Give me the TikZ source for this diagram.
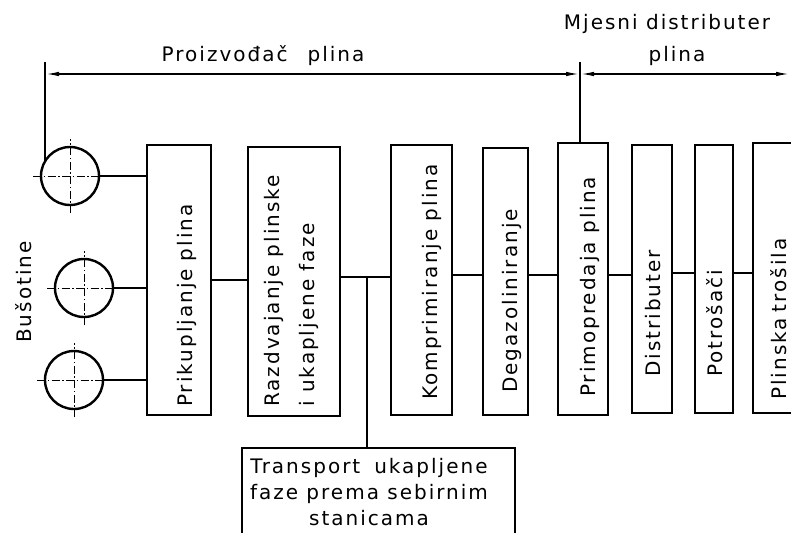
\documentclass[tikz,border=0pt]{standalone}
\usepackage{fontspec}
\setmainfont{DejaVu Sans}[LetterSpace=10]
\usetikzlibrary{arrows.meta,calc}
\begin{document}
\begin{tikzpicture}[x=1pt,y=-1pt,
  box/.style={draw,line width=2.2pt,inner sep=0pt,rectangle},
  lbl/.style={font=\fontsize{20}{24}\selectfont,inner sep=0pt},
  vlbl/.style={lbl,rotate=90,anchor=base west},
  wire/.style={line width=2.2pt},
  well/.style={draw,circle,line width=2.4pt,minimum size=58pt,inner sep=0pt},
  axisline/.style={line width=1pt,dash pattern=on 8pt off 2.5pt on 1.5pt off 2.5pt},
  dimline/.style={line width=1.6pt,{Latex[length=14pt,width=4.5pt]}-{Latex[length=14pt,width=4.5pt]}},
  refline/.style={line width=1.6pt}]
\useasboundingbox (0,0) rectangle (791,532);
\clip (0,0) rectangle (791,532);

% wells
\node[well] (c1) at (70,176) {};
\node[well] (c2) at (84,288) {};
\node[well] (c3) at (74,380) {};
\foreach \c in {c1,c2,c3}{
  \draw[axisline] ([xshift=-37pt]\c.center) -- ([xshift=37pt]\c.center);
  \draw[axisline] ([yshift=-37pt]\c.center) -- ([yshift=37pt]\c.center);
}
\node[lbl,rotate=90,anchor=base west] (bus) at (31,343) {Bušotine};

% boxes
\node[box,minimum width=64pt,minimum height=270pt] (b1) at (179,280) {};
\node[box,minimum width=92pt,minimum height=269pt] (b2) at (294,281.5) {};
\node[box,minimum width=61pt,minimum height=270pt] (b3) at (421.5,280) {};
\node[box,minimum width=45pt,minimum height=267pt] (b4) at (505.5,281.5) {};
\node[box,minimum width=50pt,minimum height=272pt] (b5) at (583,279) {};
\node[box,minimum width=40pt,minimum height=268pt] (b6) at (652,279) {};
\node[box,minimum width=38pt,minimum height=268pt] (b7) at (714,279) {};
\node[box,minimum width=67pt,minimum height=270pt] (b8) at (786.5,278) {};
\node[box,minimum width=273pt,minimum height=97pt] (tr) at (378.5,496.5) {};

% box texts
\node[vlbl] (t1) at (192,407) {Prikupljanje\hspace{8pt}plina};
\node[lbl,rotate=90,anchor=north west,align=left,font=\fontsize{20}{35}\selectfont] (t2) at (264.5,407) {Razdvajanje plinske\\i ukapljene faze};
\node[vlbl] (t3) at (437,400) {Komprimiranje plina};
\node[vlbl] (t4) at (517,393) {Degazoliniranje};
\node[vlbl] (t5) at (595,397) {Primopredaja plina};
\node[vlbl] (t6) at (660,377) {Distributer};
\node[vlbl] (t7) at (722,377) {Potrošači};
\node[vlbl] (t8) at (786,400) {Plinska\hspace{6pt}trošila};
\node[lbl,align=center,anchor=north,font=\fontsize{20}{26}\selectfont] (t9) at (369,458) {Transport\hspace{14pt}ukapljene\\faze prema sebirnim\\stanicama};

% connectors
\draw[wire] (c1.east) -- (c1.east -| b1.west);
\draw[wire] (c2.east) -- (c2.east -| b1.west);
\draw[wire] (c3.east) -- (c3.east -| b1.west);
\draw[wire] (b1.east) -- (b1.east -| b2.west);
\draw[wire] ([yshift=4.5pt]b2.east) -- ([yshift=4.5pt]b2.east -| b3.west);
\draw[wire] ([yshift=5pt]b3.east) -- ([yshift=5pt]b3.east -| b4.west);
\draw[wire] ([yshift=6.5pt]b4.east) -- ([yshift=6.5pt]b4.east -| b5.west);
\draw[wire] ([yshift=4pt]b5.east) -- ([yshift=4pt]b5.east -| b6.west);
\draw[wire] ([yshift=6pt]b6.east) -- ([yshift=6pt]b6.east -| b7.west);
\draw[wire] ([yshift=6pt]b7.east) -- ([yshift=6pt]b7.east -| b8.west);
\coordinate (j) at ($([yshift=4.5pt]b2.east)!0.53!([yshift=4.5pt]b2.east -| b3.west)$);
\draw[wire] (j) -- (j |- tr.north);

% dimension lines
\coordinate (d0) at (45,62);
\coordinate (d1) at (580,62);
\coordinate (dl) at (45,74);
\coordinate (dm) at (580,74);
\coordinate (dr) at (790,74);
\draw[refline] (d0) -- (d0 |- c1.150);
\draw[refline] (d1) -- (d1 |- b5.north);
\draw[dimline] (dl) -- (dm);
\draw[dimline] (dm) -- (dr);
\node[lbl,anchor=base] (p1) at (263,62) {Proizvođač\hspace{20pt}plina};
\node[lbl,anchor=base] (p2) at (667,30) {Mjesni distributer};
\node[lbl,anchor=base] (p3) at (677,62) {plina};
\end{tikzpicture}
\end{document}
